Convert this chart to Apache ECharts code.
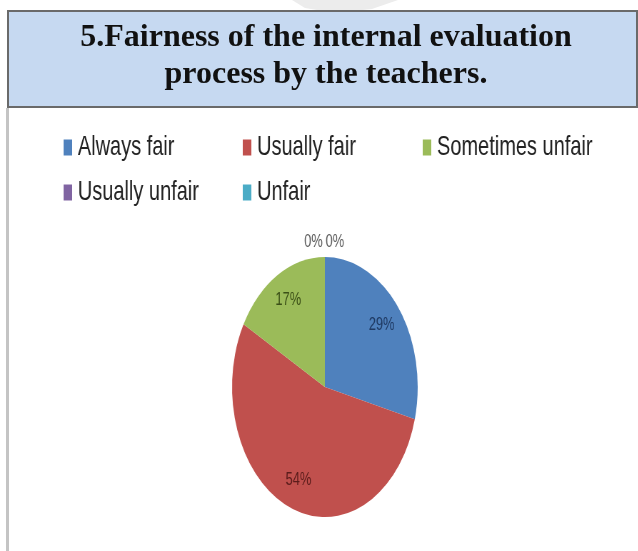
<!DOCTYPE html>
<html><head><meta charset="utf-8">
<script src="https://cdn.jsdelivr.net/npm/echarts@6/dist/echarts.min.js"></script>
<style>
html,body{margin:0;padding:0;background:#fff;width:638px;height:551px;overflow:hidden}
#a{position:absolute;left:0;top:0;width:638px;height:551px}
#b{position:absolute;left:0;top:107px;width:894px;height:444px;transform:scaleX(0.714);transform-origin:0 0}
</style></head><body><div id="a"></div><div id="b"></div>
<script>
const titleLines = ['5.Fairness of the internal evaluation', 'process by the teachers.'];
const categories = ['Always fair', 'Usually fair', 'Sometimes unfair', 'Usually unfair', 'Unfair'];
const shares = [29, 54, 17, 0, 0];

const sliceColors = ['#4f81bd', '#c0504d', '#9bbb59', '#8064a2', '#4bacc6'];
const labelColors = ['#1f3a63', '#5a1c1b', '#3b4f17', '#595959', '#595959'];
const legendPos = [[89, 26], [340, 26], [592, 26], [89, 71], [340, 71]];
const zeroPads = [[0, 32, 0, 0], [0, 0, 0, 28]];

const a = echarts.init(document.getElementById('a'), null, {renderer: 'canvas'});
a.setOption({
  animation: false,
  backgroundColor: '#ffffff',
  graphic: [
    {type: 'polygon', shape: {points: [[292, 0], [398, 0], [372, 9], [335, 13], [305, 8]]}, style: {fill: '#ececec'}, z: 1},
    {type: 'rect', shape: {x: 8, y: 11, width: 629, height: 96}, style: {fill: '#c6d9f1', stroke: '#6a6a6a', lineWidth: 2}, z: 2},
    {type: 'rect', shape: {x: 6, y: 108, width: 3, height: 443}, style: {fill: '#c4c4c4'}, z: 2}
  ],
  title: {
    text: titleLines.join('\n'),
    left: 326, textAlign: 'center', top: 19, padding: 0,
    textStyle: {fontFamily: 'Liberation Serif', fontWeight: 'bold', fontSize: 32, lineHeight: 37, color: '#111'}
  }
});

const b = echarts.init(document.getElementById('b'), null, {renderer: 'canvas'});
const data = categories.map((n, i) => ({name: n, value: shares[i], itemStyle: {color: sliceColors[i]}}));
let zi = 0;
const zeroData = categories.map((n, i) => {
  const isZero = shares[i] === 0;
  const item = {name: n, value: shares[i], itemStyle: {color: 'transparent'},
    label: {show: isZero, color: labelColors[i]}};
  if (isZero) { item.label.padding = zeroPads[zi % zeroPads.length]; zi++; }
  return item;
});
const ringData = categories.map((n, i) => ({name: n, value: shares[i], itemStyle: {color: 'transparent'},
  label: {show: shares[i] !== 0, color: labelColors[i]}}));

b.setOption({
  animation: false,
  legend: categories.map((n, i) => ({
    data: [n], left: legendPos[i][0], top: legendPos[i][1], padding: 0,
    icon: 'rect', itemWidth: 12, itemHeight: 16,
    selectedMode: false,
    textStyle: {fontFamily: 'Liberation Sans', fontSize: 28, lineHeight: 29, color: '#222', padding: [0, 0, 0, 3]}
  })),
  series: [
    {type: 'pie', name: 'main', center: [455, 280], radius: [0, 130], startAngle: 90, clockwise: true,
     silent: true, label: {show: false}, labelLine: {show: false}, itemStyle: {borderWidth: 0}, data: data, z: 2},
    {type: 'pie', name: 'labels', center: [455, 280], radius: [65, 130], startAngle: 90, clockwise: true,
     silent: true, legendHoverLink: false, labelLine: {show: false},
     label: {position: 'inside', formatter: p => p.value + '%', fontFamily: 'Liberation Sans', fontSize: 18},
     itemStyle: {borderWidth: 0}, data: ringData, z: 3},
    {type: 'pie', name: 'zeros', center: [455, 280], radius: [137, 147], startAngle: 90, clockwise: true,
     silent: true, legendHoverLink: false, labelLine: {show: false},
     label: {position: 'inside', formatter: p => p.value + '%', fontFamily: 'Liberation Sans', fontSize: 18},
     itemStyle: {borderWidth: 0}, data: zeroData, z: 3}
  ]
});
</script></body></html>
